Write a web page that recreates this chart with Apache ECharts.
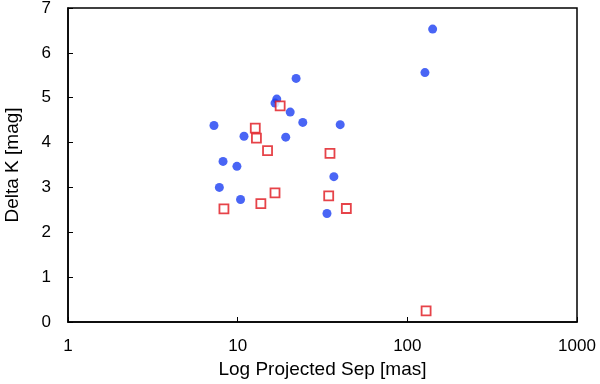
<!DOCTYPE html>
<html>
<head>
<meta charset="utf-8">
<script src="https://cdn.jsdelivr.net/npm/echarts@6/dist/echarts.min.js"></script>
<style>
  html, body { margin: 0; padding: 0; background: #fff; }
  #main { width: 600px; height: 384px; }
</style>
</head>
<body>
<div id="main"></div>
<script>
// blue filled circles
var blueSep = [7.25, 7.8, 8.2, 9.9, 10.4, 10.9, 17.0, 16.6, 20.4, 19.2, 24.2, 22.1, 40.2, 36.9, 33.6, 141, 127];
var blueDK  = [4.38, 3.0, 3.58, 3.47, 2.73, 4.14, 4.97, 4.88, 4.68, 4.12, 4.45, 5.43, 4.4, 3.24, 2.42, 6.53, 5.56];

// red open squares
var redSep = [8.3, 12.7, 12.9, 15.0, 13.7, 16.6, 17.8, 35.0, 34.4, 43.7, 129];
var redDK  = [2.52, 4.32, 4.1, 3.82, 2.64, 2.88, 4.82, 3.76, 2.81, 2.53, 0.25];

function pairs(xs, ys) {
    var out = [];
    for (var i = 0; i < xs.length; i++) {
        out.push([xs[i], ys[i]]);
    }
    return out;
}

var myChart = echarts.init(document.getElementById('main'));
var font = 'Liberation Sans, Arial, sans-serif';
var option = {
    animation: false,
    grid: {
        left: 68,
        right: 23,
        top: 8,
        bottom: 62,
        outerBoundsMode: 'none',
        containLabel: false,
        show: true,
        borderColor: '#000',
        borderWidth: 1.5
    },
    xAxis: {
        type: 'log',
        logBase: 10,
        min: 1,
        max: 1000,
        name: 'Log Projected Sep [mas]',
        nameLocation: 'middle',
        nameGap: 32,
        nameTextStyle: { fontFamily: font, fontSize: 19, color: '#000' },
        axisLine: { lineStyle: { color: '#000', width: 1.5 } },
        axisTick: { inside: true, length: 5, lineStyle: { color: '#000' } },
        minorTick: { show: false },
        axisLabel: {
            fontFamily: font, fontSize: 17, color: '#000', margin: 16,
            formatter: function (v) { return String(Math.round(v)); }
        },
        splitLine: { show: false }
    },
    yAxis: {
        type: 'value',
        min: 0,
        max: 7,
        interval: 1,
        name: 'Delta K [mag]',
        nameLocation: 'middle',
        nameGap: 46,
        nameTextStyle: { fontFamily: font, fontSize: 19, color: '#000' },
        axisLine: { show: true, lineStyle: { color: '#000', width: 1.5 } },
        axisTick: { show: true, inside: true, length: 5, lineStyle: { color: '#000' } },
        axisLabel: { fontFamily: font, fontSize: 17, color: '#000', margin: 17 },
        splitLine: { show: false }
    },
    series: [
        {
            name: 'blue',
            type: 'scatter',
            symbol: 'circle',
            symbolSize: 9,
            data: pairs(blueSep, blueDK),
            itemStyle: { color: '#1c3ff2' }
        },
        {
            name: 'red',
            type: 'scatter',
            symbol: 'rect',
            symbolSize: 9,
            data: pairs(redSep, redDK),
            itemStyle: { color: '#fff', borderColor: '#e0141c', borderWidth: 1.8 }
        }
    ]
};
myChart.setOption(option);
</script>
</body>
</html>
